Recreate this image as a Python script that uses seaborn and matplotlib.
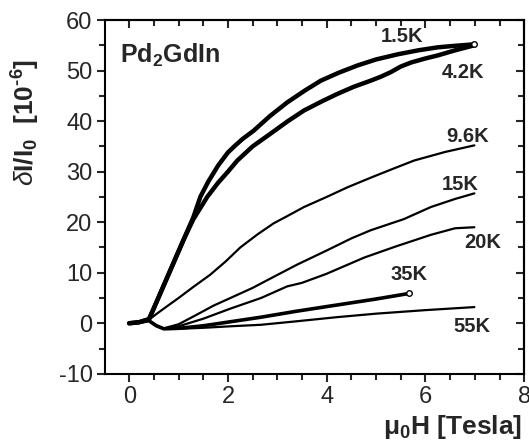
import numpy as np
import pandas as pd
import seaborn as sns
import matplotlib
matplotlib.use("Agg")
import matplotlib.pyplot as plt
from matplotlib.ticker import MultipleLocator

sns.set_style("ticks")
plt.rcParams["font.family"] = ["Liberation Sans", "DejaVu Sans"]
plt.rcParams["mathtext.fontset"] = "custom"
plt.rcParams["mathtext.rm"] = "Liberation Sans"
plt.rcParams["mathtext.bf"] = "Liberation Sans:bold"
plt.rcParams["mathtext.it"] = "Liberation Sans:italic"
plt.rcParams["axes.unicode_minus"] = False

# data: field (T) vs dI/I0 (1e-6)
x_15 = [0, 0.2, 0.4, 0.5, 0.7, 0.9, 1.1, 1.3, 1.44, 1.6, 1.8, 2.0, 2.15, 2.3, 2.52,
        2.85, 3.2, 3.55, 3.88, 4.25, 4.62, 5.0, 5.43, 5.85, 6.25, 6.6, 6.99]
y_15 = [0, 0.2, 0.8, 3.0, 7.5, 12.0, 16.5, 21.0, 25.0, 28.0, 31.2, 33.8, 35.2, 36.5, 38.1,
        41.0, 43.7, 46.0, 48.0, 49.6, 51.0, 52.2, 53.2, 54.0, 54.6, 54.9, 55.2]
x_42 = [0, 0.2, 0.4, 0.5, 0.7, 0.9, 1.1, 1.3, 1.58, 1.8, 2.0, 2.19, 2.5, 2.86, 3.2,
        3.54, 3.9, 4.22, 4.55, 4.89, 5.1, 5.3, 5.5, 5.71, 6.0, 6.25, 6.6, 6.99]
y_42 = [0, 0.2, 0.8, 3.0, 7.5, 12.0, 16.5, 20.6, 25.0, 27.8, 30.0, 32.2, 35.0, 37.5, 39.9,
        42.1, 43.9, 45.4, 46.8, 48.0, 48.8, 49.7, 50.8, 51.6, 52.4, 53.0, 54.0, 55.0]
x_96 = [0, 0.2, 0.4, 0.56, 0.8, 1.0, 1.3, 1.64, 1.95, 2.25, 2.6, 2.93, 3.2, 3.54, 4.0,
        4.42, 4.89, 5.3, 5.77, 6.4, 6.99]
y_96 = [0, 0.2, 0.7, 1.9, 3.6, 5.0, 7.2, 9.6, 12.2, 15.0, 17.6, 19.8, 21.2, 23.0, 25.0,
        26.9, 28.8, 30.4, 32.2, 33.9, 35.2]
x_15k = [0, 0.2, 0.4, 0.55, 0.7, 1.0, 1.35, 1.71, 2.05, 2.5, 2.87, 3.4, 4.0, 4.5, 4.89,
         5.56, 6.11, 6.6, 6.99]
y_15k = [0, 0.2, 0.5, -0.4, -1.0, -0.2, 1.6, 3.5, 5.0, 7.0, 8.9, 11.6, 14.4, 16.8, 18.4,
         20.6, 23.0, 24.6, 25.7]
x_20 = [0, 0.2, 0.4, 0.55, 0.7, 1.0, 1.5, 2.05, 2.67, 3.2, 3.5, 4.0, 4.76, 5.4, 6.11,
        6.6, 6.99]
y_20 = [0, 0.2, 0.5, -0.5, -1.1, -0.6, 0.9, 2.9, 5.0, 7.3, 8.0, 9.8, 13.0, 15.2, 17.5,
        18.8, 19.0]
x_35 = [0, 0.2, 0.4, 0.55, 0.7, 1.0, 1.5, 2.05, 2.67, 3.4, 4.2, 5.0, 5.67]
y_35 = [0, 0.2, 0.5, -0.5, -1.1, -1.0, -0.5, 0.3, 1.2, 2.4, 3.6, 4.8, 5.9]
x_55 = [0, 0.2, 0.4, 0.55, 0.7, 1.0, 1.5, 2.05, 2.67, 3.4, 4.2, 5.0, 6.0, 6.99]
y_55 = [0, 0.2, 0.5, -0.5, -1.1, -1.1, -0.9, -0.6, -0.3, 0.4, 1.2, 1.9, 2.6, 3.2]

temps = ["1.5K", "4.2K", "9.6K", "15K", "20K", "35K", "55K"]
xs = [x_15, x_42, x_96, x_15k, x_20, x_35, x_55]
ys = [y_15, y_42, y_96, y_15k, y_20, y_35, y_55]
widths = [3.2, 3.2, 1.6, 1.6, 1.6, 2.6, 1.6]
label_x = [5.52, 6.75, 6.85, 6.7, 7.15, 5.66, 6.95]
label_y = [56.7, 49.6, 37.0, 27.5, 16.0, 9.7, -0.6]

fig, ax = plt.subplots(figsize=(5.29, 4.45), dpi=100)
fig.subplots_adjust(left=0.1985, right=0.991, top=0.955, bottom=0.16)

for t, x, y, w in zip(temps, xs, ys, widths):
    df = pd.DataFrame({"H": x, "dI": y})
    sns.lineplot(data=df, x="H", y="dI", ax=ax, color="black", lw=w,
                 sort=False, estimator=None,
                 solid_capstyle="round", solid_joinstyle="round")

# open circles at the end of two runs
for x, y in [(x_15, y_15), (x_35, y_35)]:
    ax.plot(x[-1], y[-1], "o", ms=4, mfc="white", mec="black", mew=1)

for t, lx, ly in zip(temps, label_x, label_y):
    ax.text(lx, ly, t, ha="center", va="center", fontsize=14.5, fontweight="bold")

ax.text(-0.18, 51.6, r"Pd$_\mathbf{2}$GdIn", fontsize=18, fontweight="bold",
        va="baseline", ha="left")

ax.set_xlim(-0.49, 8.0)
ax.set_ylim(-10, 60)
ax.xaxis.set_major_locator(MultipleLocator(2))
ax.xaxis.set_minor_locator(MultipleLocator(0.5))
ax.yaxis.set_major_locator(MultipleLocator(10))
ax.yaxis.set_minor_locator(MultipleLocator(5))
ax.tick_params(which="major", direction="out", length=6, width=1.5, labelsize=17, pad=3)
ax.tick_params(which="minor", direction="out", length=4, width=1.5)

for side, sec in [("top", ax.secondary_xaxis("top")), ("right", ax.secondary_yaxis("right"))]:
    if side == "top":
        sec.xaxis.set_major_locator(MultipleLocator(2))
        sec.xaxis.set_minor_locator(MultipleLocator(0.5))
    else:
        sec.yaxis.set_major_locator(MultipleLocator(10))
        sec.yaxis.set_minor_locator(MultipleLocator(5))
    sec.tick_params(which="major", direction="in", length=6, width=1.5,
                    labeltop=False, labelright=False)
    sec.tick_params(which="minor", direction="in", length=4, width=1.5)
    for sp in sec.spines.values():
        sp.set_linewidth(1.5)

for sp in ax.spines.values():
    sp.set_visible(True)
    sp.set_linewidth(1.5)
    sp.set_color("black")

ax.set_ylabel(r"$\delta$I/I$_\mathbf{0}$  [10$^\mathbf{" + "\u2010" + r"6}$]",
              fontsize=19, fontweight="bold")
ax.yaxis.set_label_coords(-0.15, 0.712)
ax.set_xlabel("\u03bc" + r"$_\mathbf{0}$H [Tesla]", fontsize=19, fontweight="bold", ha="right")
ax.xaxis.set_label_coords(0.995, -0.11)

fig.savefig("out.png", dpi=100)
